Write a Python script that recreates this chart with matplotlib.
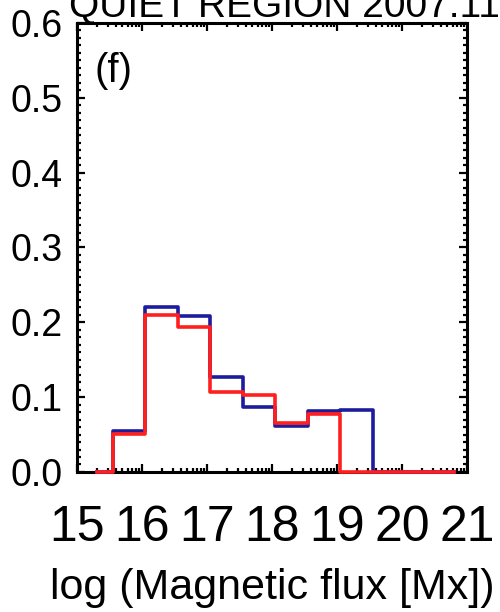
import numpy as np
import matplotlib
matplotlib.use("Agg")
from matplotlib import pyplot as plt
from matplotlib.ticker import FixedLocator, MultipleLocator

plt.rcParams["font.family"] = ["Liberation Sans", "DejaVu Sans"]

# Flux histogram, bin centres in log(Mx), bin width 0.5
bin_centres = [15.3, 15.8, 16.3, 16.8, 17.3, 17.8, 18.3, 18.8, 19.3, 19.8, 20.3, 20.8]
blue_frac = [0.0, 0.055, 0.221, 0.209, 0.127, 0.087, 0.061, 0.082, 0.083, 0.0, 0.0, 0.0]
red_frac = [0.0, 0.051, 0.210, 0.194, 0.107, 0.103, 0.066, 0.078, 0.0, 0.0, 0.0, 0.0]
x_ticks = [15, 16, 17, 18, 19, 20, 21]
y_ticks = [0.0, 0.1, 0.2, 0.3, 0.4, 0.5, 0.6]
title_text = "QUIET REGION 2007.11.13"
panel_tag = "(f)"

fig = plt.figure(figsize=(5.0, 6.12), dpi=100)
ax = fig.add_axes([0.154, 0.2288, 0.78, 0.7336])

ax.plot(bin_centres, blue_frac, drawstyle="steps-mid", color="#1c1c9c", lw=2.6,
        zorder=3, clip_on=False)
ax.plot(bin_centres, red_frac, drawstyle="steps-mid", color="#ff1f1f", lw=2.6,
        zorder=4, clip_on=False)

ax.set_xlim(15, 21)
ax.set_ylim(0, 0.6)
ax.set_xticks(x_ticks)
ax.set_xticklabels([str(t) for t in x_ticks], fontsize=36)
ax.set_yticks(y_ticks)
ax.set_yticklabels([f"{t:.1f}" for t in y_ticks], fontsize=27)

# log-style minor ticks on x, 0.01 steps on y
minor_x = [d + np.log10(k) for d in range(15, 21) for k in range(2, 10)]
ax.xaxis.set_minor_locator(FixedLocator(minor_x))
ax.yaxis.set_minor_locator(MultipleLocator(0.01))

ax.tick_params(which="both", direction="in", top=True, right=True, width=1.6)
ax.tick_params(which="major", length=6)
ax.tick_params(which="minor", length=3)
ax.tick_params(axis="x", which="major", pad=24)
ax.tick_params(axis="y", which="major", pad=10)
for s in ax.spines.values():
    s.set_linewidth(2.2)

ax.set_xlabel("log (Magnetic flux [Mx])", fontsize=31, labelpad=12)
ax.text(0.045, 0.935, panel_tag, transform=ax.transAxes, fontsize=29, va="top", ha="left")
fig.text(0.138, 1 - 17 / 612, title_text, fontsize=28, ha="left", va="baseline")

fig.savefig("out.png", dpi=100)
